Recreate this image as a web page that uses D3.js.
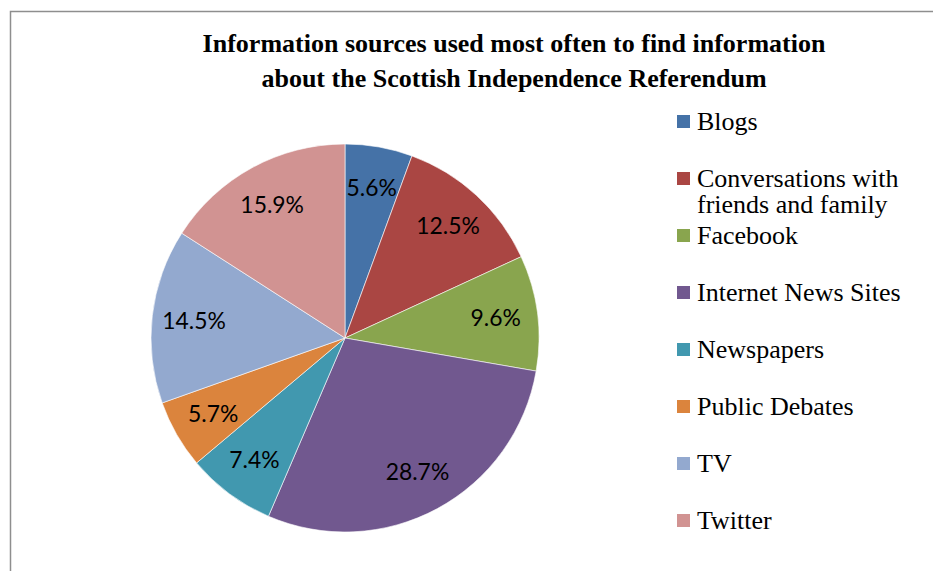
<!DOCTYPE html>
<meta charset="utf-8">
<body style="margin:0">
    <svg id="chart" width="933" height="571"></svg>

    <script src="https://cdn.jsdelivr.net/npm/d3@7"></script>
    <script>

        // data
        var categories = ["Blogs", "Conversations with friends and family", "Facebook",
            "Internet News Sites", "Newspapers", "Public Debates", "TV", "Twitter"];
        var values = [5.6, 12.5, 9.6, 28.7, 7.4, 5.7, 14.5, 15.9];
        var labels = ["5.6%", "12.5%", "9.6%", "28.7%", "7.4%", "5.7%", "14.5%", "15.9%"];
        var colors = ["#4572a7", "#aa4643", "#89a54e", "#71588f", "#4198af", "#db843d", "#93a9cf", "#d19392"];
        var titleLines = ["Information sources used most often to find information",
            "about the Scottish Independence Referendum"];

        var width = 933, height = 571;
        // serif text is set at 22px and scaled up to ~26px
        var k = 26 / 22;

        var svg = d3.select("#chart");

        // outer frame (only left + top visible)
        svg.append("path")
            .attr("d", "M10.5," + height + "V11.5H" + width)
            .attr("fill", "none")
            .attr("stroke", "#8e8e8e")
            .attr("stroke-width", 1.5);

        // title
        svg.selectAll("g.title")
            .data(titleLines)
            .enter()
            .append("g")
            .attr("class", "title")
            .attr("transform", function (d, i) { return "translate(514," + (52 + i * 35) + ") scale(" + k + ")"; })
            .append("text")
            .style("font-family", "'Liberation Serif'")
            .style("font-weight", "bold")
            .style("font-size", "22px")
            .attr("text-anchor", "middle")
            .text(function (d) { return d; });

        // pie
        var cx = 345, cy = 338, radius = 194;

        var color = d3.scaleOrdinal()
            .domain(categories)
            .range(colors);

        var pie = d3.pie()
            .sort(null)
            .value(function (d, i) { return values[i]; });

        var arcs = pie(categories);

        var arc = d3.arc()
            .innerRadius(0)
            .outerRadius(radius);

        var labelArc = d3.arc()
            .innerRadius(152)
            .outerRadius(152);

        var g = svg.append("g")
            .attr("transform", "translate(" + cx + "," + cy + ")");

        g.selectAll("path.slice")
            .data(arcs)
            .enter()
            .append("path")
            .attr("class", "slice")
            .attr("d", arc)
            .attr("fill", function (d) { return color(d.data); })
            .attr("stroke", "#fff")
            .attr("stroke-width", 0.6);

        g.selectAll("text.slice-label")
            .data(arcs)
            .enter()
            .append("text")
            .attr("class", "slice-label")
            .style("font-family", "'Lato'")
            .style("font-size", "22px")
            .attr("transform", function (d) { return "translate(" + labelArc.centroid(d) + ") scale(1.04)"; })
            .attr("text-anchor", "middle")
            .attr("dy", "0.35em")
            .text(function (d) { return labels[d.index]; });

        // legend
        var ly = d3.scalePoint()
            .domain(categories)
            .range([121.5, 520.5]);

        var item = svg.append("g").selectAll("g")
            .data(categories)
            .enter()
            .append("g")
            .attr("transform", function (d) { return "translate(0," + ly(d) + ")"; });

        item.append("rect")
            .attr("x", 677)
            .attr("y", -6.5)
            .attr("width", 13)
            .attr("height", 13)
            .attr("fill", function (d) { return color(d); });

        // long name wraps onto two lines like in the original
        item.each(function (d) {
            var lines = d == "Conversations with friends and family"
                ? ["Conversations with", "friends and family"] : [d];
            var it = d3.select(this);
            lines.forEach(function (line, i) {
                it.append("g")
                    .attr("transform", "translate(697," + (8 + i * 26) + ") scale(" + k + ")")
                    .append("text")
                    .style("font-family", "'Liberation Serif'")
                    .style("font-size", "22px")
                    .text(line);
            });
        });

    </script>
</body>
